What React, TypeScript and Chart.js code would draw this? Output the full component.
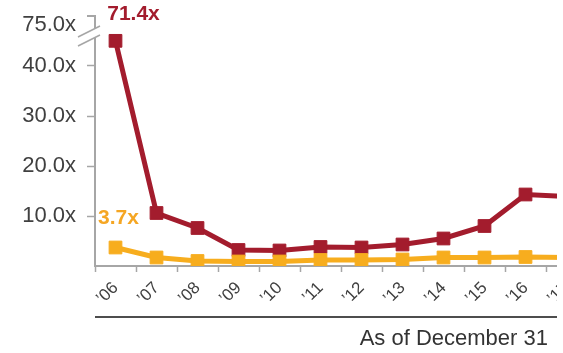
import React, { useEffect, useRef } from 'react';
import { Chart, registerables, LinearScale } from 'chart.js';

// Fiscal year-end labels
const years = ['’06', '’07', '’08', '’09', '’10', '’11', '’12', '’13', '’14', '’15', '’16', '’17'];
// Valuation multiples (x)
const multipleA = [71.4, 10.6, 7.6, 3.2, 3.1, 3.8, 3.7, 4.3, 5.5, 8.0, 14.3, 13.9];
const multipleB = [3.7, 1.7, 1.0, 0.9, 0.9, 1.2, 1.2, 1.3, 1.7, 1.7, 1.8, 1.7];
// Labelled values on the value axis
const yTicks = [10, 20, 30, 40, 75];
const footnote = 'As of December 31';

const RED = '#A31C2D';
const GOLD = '#F7AD1E';
const GOLD_TEXT = '#F5A623';
const AXIS = '#A6A6A6';
const TEXT = '#404040';
const FONT = '"Liberation Sans", Arial, sans-serif';

// Broken axis: linear up to 40, a compressed gap from 40 to 70, then linear again.
const squeeze = (v: number) => {
  if (v <= 40) return v;
  if (v <= 70) return 40 + (v - 40) * (3.8 / 30);
  return 43.8 + (v - 70) * 0.88;
};
const unsqueeze = (p: number) => {
  if (p <= 40) return p;
  if (p <= 43.8) return 40 + (p - 40) * (30 / 3.8);
  return 70 + (p - 43.8) / 0.88;
};

class BrokenLinearScale extends LinearScale {
  static id = 'brokenLinear';
  static defaults = LinearScale.defaults;
  getPixelForValue(value: number) {
    return super.getPixelForValue(squeeze(value));
  }
  getValueForPixel(pixel: number) {
    return unsqueeze(super.getValueForPixel(pixel) as number);
  }
}

Chart.register(...registerables, BrokenLinearScale);

// Value tag above the first point of each series
const firstPointLabels = {
  id: 'firstPointLabels',
  afterDatasetsDraw(chart: any) {
    const { ctx } = chart;
    chart.data.datasets.forEach((ds: any, i: number) => {
      const pt = chart.getDatasetMeta(i).data[0];
      if (!pt) return;
      ctx.save();
      ctx.font = `bold 21px ${FONT}`;
      ctx.fillStyle = ds.tagColor;
      ctx.textAlign = 'center';
      ctx.textBaseline = 'middle';
      ctx.fillText(`${Number(ds.data[0]).toFixed(1)}x`, pt.x + ds.tagOffset[0], pt.y + ds.tagOffset[1]);
      ctx.restore();
    });
  },
};

// Break marks on the value axis and the top cap tick
const axisBreak = {
  id: 'axisBreak',
  afterDraw(chart: any) {
    const { ctx, chartArea } = chart;
    const ax = chartArea.left;
    const top = chartArea.top;
    ctx.save();
    ctx.fillStyle = '#ffffff';
    ctx.fillRect(ax - 3, top + 12, 6, 9);
    ctx.strokeStyle = AXIS;
    ctx.lineWidth = 2;
    ctx.beginPath();
    ctx.moveTo(ax - 8, top);
    ctx.lineTo(ax, top);
    ctx.stroke();
    ctx.lineWidth = 1.5;
    ctx.beginPath();
    ctx.moveTo(ax - 17, top + 21);
    ctx.lineTo(ax + 5, top + 10);
    ctx.moveTo(ax - 17, top + 30);
    ctx.lineTo(ax + 5, top + 19);
    ctx.stroke();
    ctx.restore();
  },
};

// Rule and date note under the category labels
const footer = {
  id: 'footer',
  afterDraw(chart: any) {
    const { ctx, chartArea } = chart;
    ctx.save();
    ctx.strokeStyle = '#4D4D4D';
    ctx.lineWidth = 2;
    ctx.beginPath();
    ctx.moveTo(chartArea.left, 317);
    ctx.lineTo(557, 317);
    ctx.stroke();
    ctx.fillStyle = '#333333';
    ctx.font = `22px ${FONT}`;
    ctx.textAlign = 'right';
    ctx.textBaseline = 'alphabetic';
    ctx.fillText(footnote, 548, 345);
    ctx.restore();
  },
};

export default function App() {
  const ref = useRef<HTMLCanvasElement | null>(null);

  useEffect(() => {
    if (!ref.current) return;
    const chart = new Chart(ref.current, {
      type: 'line',
      data: {
        labels: years,
        datasets: [
          {
            label: 'Multiple A',
            data: multipleA,
            borderColor: RED,
            backgroundColor: RED,
            pointBackgroundColor: RED,
            pointBorderColor: RED,
            borderWidth: 5,
            pointStyle: 'rect',
            pointRadius: 9,
            pointBorderWidth: 1,
            tension: 0,
            order: 1,
            tagColor: RED,
            tagOffset: [18, -27],
          } as any,
          {
            label: 'Multiple B',
            data: multipleB,
            borderColor: GOLD,
            backgroundColor: GOLD,
            pointBackgroundColor: GOLD,
            pointBorderColor: GOLD,
            borderWidth: 5,
            pointStyle: 'rect',
            pointRadius: 9,
            pointBorderWidth: 1,
            tension: 0,
            order: 0,
            tagColor: GOLD_TEXT,
            tagOffset: [3, -29],
          } as any,
        ],
      },
      options: {
        responsive: false,
        animation: false,
        layout: { padding: { top: 16, right: 13, left: 0, bottom: 0 } },
        plugins: { legend: { display: false }, tooltip: { enabled: false } },
        scales: {
          x: {
            type: 'category',
            offset: true,
            afterFit: (s: any) => {
              s.height = 87;
              s.paddingLeft = 0;
              s.paddingRight = 0;
            },
            grid: {
              offset: true,
              drawOnChartArea: false,
              drawTicks: true,
              tickLength: 6,
              tickWidth: 1.5,
              tickColor: AXIS,
            },
            border: { display: true, color: AXIS, width: 2 },
            ticks: {
              minRotation: 45,
              maxRotation: 45,
              autoSkip: false,
              padding: 6,
              color: TEXT,
              font: { family: FONT, size: 17 },
            },
          },
          y: {
            type: 'brokenLinear' as any,
            min: 0,
            max: 50,
            bounds: 'data',
            afterFit: (s: any) => {
              s.width = 95;
              s.paddingTop = 0;
              s.paddingBottom = 0;
            },
            afterBuildTicks: (s: any) => {
              s.ticks = yTicks.map((v) => ({ value: v }));
            },
            grid: {
              drawOnChartArea: false,
              drawTicks: true,
              tickLength: 8,
              tickWidth: 1.5,
              tickColor: (c: any) => (c.tick && c.tick.value === 75 ? 'rgba(0,0,0,0)' : AXIS),
            },
            border: { display: true, color: AXIS, width: 2 },
            ticks: {
              padding: 11,
              color: TEXT,
              font: { family: FONT, size: 22 },
              callback: (v: any) => `${Number(v).toFixed(1)}x`,
            },
          } as any,
        },
      },
      plugins: [firstPointLabels, axisBreak, footer],
    });
    return () => chart.destroy();
  }, []);

  return (
    <div
      style={{
        position: 'fixed',
        left: 0,
        top: 0,
        width: 563,
        height: 353,
        background: '#ffffff',
      }}
    >
      <div style={{ width: 557, height: 353, overflow: 'hidden' }}>
        <canvas ref={ref} width={600} height={353} style={{ display: 'block' }} />
      </div>
    </div>
  );
}
